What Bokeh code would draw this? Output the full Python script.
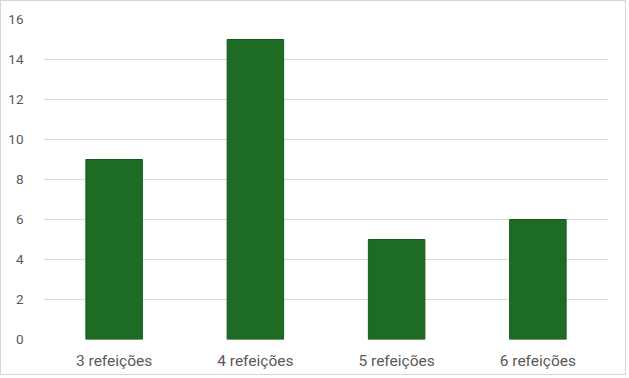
from bokeh.plotting import figure
from bokeh.models import ColumnDataSource, FactorRange, Range1d, FixedTicker
from bokeh.embed import file_html
from bokeh.resources import INLINE

categories = ["3 refeições", "4 refeições", "5 refeições", "6 refeições"]
values = [9, 15, 5, 6]
y_ticks = [0, 2, 4, 6, 8, 10, 12, 14, 16]

src = ColumnDataSource(dict(cat=categories, val=values))

p = figure(x_range=FactorRange(*categories, range_padding=0),
           y_range=Range1d(0, 16),
           width=626, height=375, output_backend="svg", toolbar_location=None,
           min_border_left=42, min_border_right=19, min_border_top=18, min_border_bottom=37,
           styles={"border": "1px solid #d6d6d6"})
p.vbar(x="cat", top="val", width=0.4, source=src,
       fill_color="#1E6B24", line_color="#19591e", line_width=1)

p.outline_line_color = None
p.background_fill_color = "white"
p.border_fill_color = "white"

p.xgrid.grid_line_color = None
p.ygrid.grid_line_color = "#d9d9d9"
p.ygrid.ticker = FixedTicker(ticks=y_ticks)
p.yaxis.ticker = FixedTicker(ticks=y_ticks)

for ax in (p.xaxis[0], p.yaxis[0]):
    ax.axis_line_color = None
    ax.major_tick_line_color = None
    ax.minor_tick_line_color = None
    ax.major_label_text_color = "#595959"
    ax.major_label_text_font = "Roboto"

p.yaxis.major_label_text_font_size = "13.5px"
p.xaxis.major_label_text_font_size = "15.5px"
p.yaxis.major_label_standoff = 14
p.xaxis.major_label_standoff = 6

html = file_html(p, INLINE)
html = html.replace("<body>", '<body style="margin:0">', 1)
open("out.html", "w").write(html)
